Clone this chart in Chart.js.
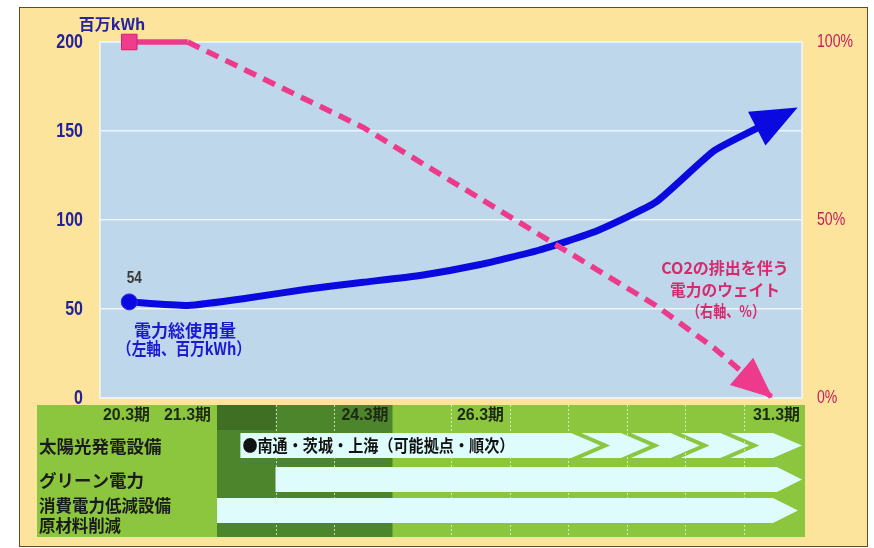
<!DOCTYPE html>
<html>
<head>
<meta charset="utf-8">
<script src="https://cdn.jsdelivr.net/npm/chart.js@4.4.1/dist/chart.umd.min.js"></script>
<style>
  html, body { margin: 0; padding: 0; background: #fff; }
  #wrap { width: 874px; height: 548px; }
</style>
</head>
<body>
<div id="wrap"><canvas id="chart" width="874" height="548"></canvas></div>
<script>
// fiscal periods along the bottom
const periods = ['20.3期', '21.3期', '22.3期', '23.3期', '24.3期', '25.3期',
                 '26.3期', '27.3期', '28.3期', '29.3期', '30.3期', '31.3期'];
// total power use, million kWh (left axis)
const powerUse = [54, 52, 56, 61, 65, 69, 75, 83, 94, 110, 139, 156];
// weight of CO2-emitting power, % (right axis)
const co2Weight = [100, 100, 92, 84, 76, 66, 56, 46, 36, 26, 14, 0];
const leftMax = 200;
const rightMax = 100;
const tickStep = { left: 50, right: 50 };

// plan table under the chart
const planRows = [['太陽光発電設備'], ['グリーン電力'], ['消費電力低減設備', '原材料削減']];
const planStart = [2.4, 3, 2];              // column where each bar begins
const solarNote = '●南通・茨城・上海（可能拠点・順次）';
const solarTips = [8.55, 9.4, 10.25, 11.1, 12]; // arrow then chevrons, rolling out by site

const SANS = '"Noto Sans CJK JP", "Noto Sans", sans-serif';
const LATIN = '"Liberation Sans", "Noto Sans CJK JP", sans-serif';

// text with optional horizontal squeeze (sx) or a width cap (maxW)
function putText(ctx, str, x, y, font, color, align, maxW, sx) {
  ctx.save();
  ctx.font = font;
  ctx.fillStyle = color;
  ctx.textBaseline = 'middle';
  ctx.textAlign = align;
  const w = ctx.measureText(str).width;
  let s = sx || 1;
  if (maxW && w * s > maxW) s = maxW / w;
  ctx.translate(x, y);
  ctx.scale(s, 1);
  ctx.fillText(str, 0, 0);
  ctx.restore();
}

function arrowBar(ctx, x0, x1, top, bot, depth, notched) {
  const mid = (top + bot) / 2;
  ctx.beginPath();
  ctx.moveTo(x0, top);
  ctx.lineTo(x1 - depth, top);
  ctx.lineTo(x1, mid);
  ctx.lineTo(x1 - depth, bot);
  ctx.lineTo(x0, bot);
  if (notched) ctx.lineTo(x0 + depth, mid);
  ctx.closePath();
  ctx.fill();
}

function arrowHead(ctx, from, to, ahead, len, half, color) {
  const dx = to.x - from.x, dy = to.y - from.y;
  const d = Math.hypot(dx, dy);
  const ux = dx / d, uy = dy / d;
  const tx = to.x + ux * ahead, ty = to.y + uy * ahead;
  const bx = tx - ux * len, by = ty - uy * len;
  ctx.save();
  ctx.fillStyle = color;
  ctx.beginPath();
  ctx.moveTo(tx, ty);
  ctx.lineTo(bx - uy * half, by + ux * half);
  ctx.lineTo(bx + uy * half, by - ux * half);
  ctx.closePath();
  ctx.fill();
  ctx.restore();
}

const backdrop = {
  id: 'backdrop',
  beforeDraw(chart) {
    const { ctx, chartArea: a } = chart;
    ctx.save();
    ctx.fillStyle = '#ffffff';
    ctx.fillRect(0, 0, chart.width, chart.height);
    ctx.fillStyle = '#fde49c';
    ctx.fillRect(19.5, 7.5, 848, 539);
    ctx.strokeStyle = '#5e4c30';
    ctx.lineWidth = 1;
    ctx.strokeRect(19.5, 7.5, 848, 539);

    ctx.fillStyle = '#bed7eb';
    ctx.fillRect(a.left, a.top, a.right - a.left, a.bottom - a.top);
    ctx.strokeStyle = '#f2f7fb';
    ctx.lineWidth = 1.5;
    ctx.strokeRect(a.left, a.top, a.right - a.left, a.bottom - a.top);

    // plan table
    const n = periods.length;
    const colW = (a.right - a.left) / n;
    const colX = c => a.left + colW * c;
    const top = 405, bottom = 537;
    ctx.fillStyle = '#8cc63f';
    ctx.fillRect(37, top, a.right + 3 - 37, bottom - top);
    ctx.fillStyle = '#4d852c';
    ctx.fillRect(colX(2), top, colX(5) - colX(2), bottom - top);
    ctx.fillStyle = '#3e6f23';
    ctx.fillRect(colX(2), top, colW, 25);

    ctx.strokeStyle = 'rgba(235, 248, 215, 0.75)';
    ctx.lineWidth = 1;
    ctx.setLineDash([2, 2]);
    for (let c = 3; c < n; c++) {
      if (c === 5) continue;
      ctx.beginPath();
      ctx.moveTo(Math.round(colX(c)) + 0.5, top);
      ctx.lineTo(Math.round(colX(c)) + 0.5, bottom);
      ctx.stroke();
    }
    ctx.setLineDash([]);

    ctx.fillStyle = '#defcfc';
    const rowY = [[433, 458], [467, 492], [498, 523]];
    // solar row: a long arrow, then chevrons
    let prev = null;
    solarTips.forEach(t => {
      const x1 = colX(t);
      const x0 = prev === null ? colX(planStart[0]) : prev - 29 + 10;
      arrowBar(ctx, x0, x1, rowY[0][0], rowY[0][1], 29, prev !== null);
      prev = x1;
    });
    arrowBar(ctx, colX(planStart[1]), a.right, rowY[1][0], rowY[1][1], 25, false);
    arrowBar(ctx, colX(planStart[2]), a.right - 4, rowY[2][0], rowY[2][1], 25, false);

    // header labels
    const hf = 'bold 16px ' + LATIN;
    const hc = '#1d2a12';
    putText(ctx, periods[0], 150, 416, hf, hc, 'right', 47);
    putText(ctx, periods[1], colX(2) - 6, 416, hf, hc, 'right', 47);
    putText(ctx, periods[4], colX(5) - 4, 416, hf, hc, 'right', 47);
    putText(ctx, periods[6], colX(6) + 6, 416, hf, hc, 'left', 47);
    putText(ctx, periods[11], colX(12) - 2, 416, hf, hc, 'right', 47);

    const rf = 'bold 17.5px ' + SANS;
    putText(ctx, planRows[0][0], 39, 446, rf, '#1b1b1b', 'left', 126);
    putText(ctx, planRows[1][0], 39, 480, rf, '#1b1b1b', 'left', 112);
    putText(ctx, planRows[2][0], 39, 505, rf, '#1b1b1b', 'left', 132);
    putText(ctx, planRows[2][1], 39, 525, rf, '#1b1b1b', 'left', 82);
    putText(ctx, solarNote, colX(planStart[0]) + 2, 446, 'bold 16.5px ' + SANS, '#111', 'left', 272);
    ctx.restore();
  },
  afterDatasetsDraw(chart) {
    const { ctx } = chart;
    const blue = chart.getDatasetMeta(1).data;
    const pink = chart.getDatasetMeta(0).data;
    const nb = blue.length;
    arrowHead(ctx, blue[nb - 2], blue[nb - 1], 28, 46, 19, '#0a0ae0');
    arrowHead(ctx, pink[nb - 2], pink[nb - 1], 0, 41, 18, '#ee3a8c');
  },
  afterDraw(chart) {
    const { ctx, chartArea: a } = chart;
    // axis numbers, squeezed to a narrow face
    chart.scales.y.ticks.forEach(t => {
      const py = chart.scales.y.getPixelForValue(t.value);
      putText(ctx, String(t.value), a.left - 17, py, 'bold 20px ' + LATIN, '#22229a', 'right', null, 0.8);
    });
    chart.scales.y1.ticks.forEach(t => {
      const py = chart.scales.y1.getPixelForValue(t.value);
      putText(ctx, t.value + '%', a.right + 15, py, '19px ' + LATIN, '#c81a5c', 'left', null, 0.74);
    });

    const p0 = chart.getDatasetMeta(1).data[0];
    putText(ctx, '百万kWh', 112, 24, 'bold 16px ' + SANS, '#2424a0', 'center', 72);
    putText(ctx, String(powerUse[0]), p0.x + 5, p0.y - 23, 'bold 16px ' + LATIN, '#3a3a3a', 'center', null, 0.85);
    putText(ctx, '電力総使用量', 185, 331, 'bold 17px ' + SANS, '#1a1ad2', 'center', 108);
    putText(ctx, '（左軸、百万kWh）', 184, 349, 'bold 17px ' + SANS, '#1a1ad2', 'center', 134);
    const pc = '#d62a6e';
    putText(ctx, 'CO2の排出を伴う', 725, 268, 'bold 16px ' + SANS, pc, 'center', 136);
    putText(ctx, '電力のウェイト', 725, 290, 'bold 16px ' + SANS, pc, 'center', 110);
    putText(ctx, '（右軸、%）', 726, 311, 'bold 16px ' + SANS, pc, 'center', 78);
  }
};

new Chart(document.getElementById('chart'), {
  type: 'line',
  data: {
    labels: periods,
    datasets: [
      {
        label: 'CO2の排出を伴う電力のウェイト',
        data: co2Weight,
        yAxisID: 'y1',
        borderColor: '#ee3a8c',
        borderWidth: 5.5,
        tension: 0,
        clip: false,
        pointStyle: 'rect',
        pointRadius: co2Weight.map((v, i) => (i === 0 ? 11 : 0)),
        pointBackgroundColor: '#f03c8c',
        pointBorderColor: '#d81e6c',
        pointBorderWidth: 1,
        segment: {
          borderDash: c => (c.p0DataIndex >= 1 ? [13, 8] : undefined)
        }
      },
      {
        label: '電力総使用量',
        data: powerUse,
        yAxisID: 'y',
        borderColor: '#0a0ae0',
        borderWidth: 7,
        tension: 0.15,
        clip: false,
        pointRadius: powerUse.map((v, i) => (i === 0 ? 8 : 0)),
        pointBackgroundColor: '#0a0ae0',
        pointBorderColor: '#2b2bf0',
        pointBorderWidth: 1
      }
    ]
  },
  options: {
    responsive: false,
    animation: false,
    events: [],
    layout: { padding: { top: 42, bottom: 150, left: 0, right: 0 } },
    plugins: { legend: { display: false }, tooltip: { enabled: false } },
    scales: {
      x: { display: false, offset: true },
      y: {
        position: 'left',
        min: 0,
        max: leftMax,
        afterFit: s => { s.width = 100; },
        border: { display: false },
        grid: { color: '#eef4fa', lineWidth: 1.5, drawTicks: false },
        ticks: { stepSize: tickStep.left, display: false }
      },
      y1: {
        position: 'right',
        min: 0,
        max: rightMax,
        afterFit: s => { s.width = 72; },
        border: { display: false },
        grid: { display: false, drawTicks: false },
        ticks: { stepSize: tickStep.right, display: false }
      }
    }
  },
  plugins: [backdrop]
});
</script>
</body>
</html>
